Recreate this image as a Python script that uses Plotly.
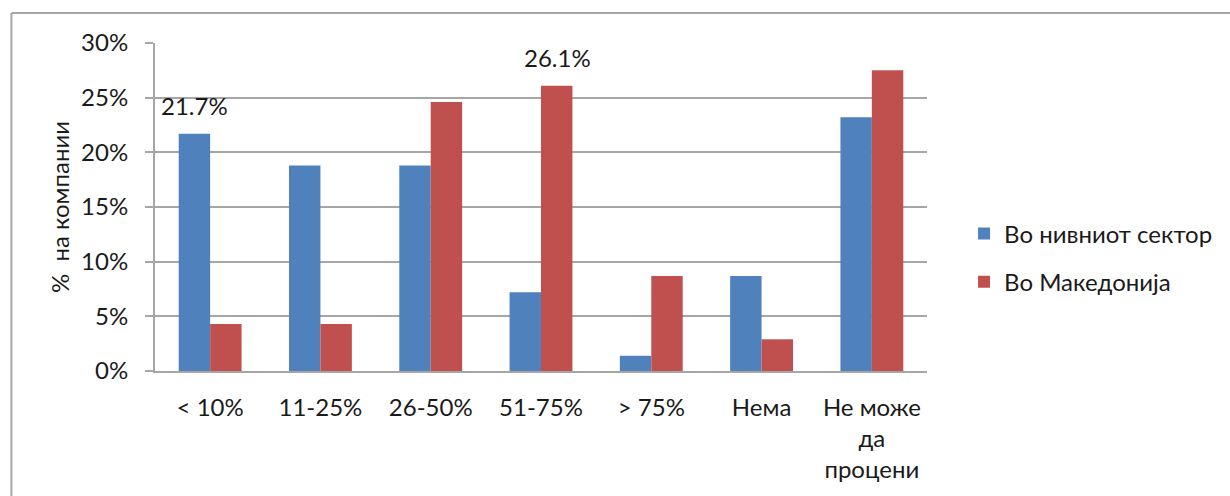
import plotly.graph_objects as go

categories = ["< 10%", "11-25%", "26-50%", "51-75%", "> 75%", "Нема", "Не може<br>да<br>процени"]
sector_vals = [21.7, 18.8, 18.8, 7.2, 1.4, 8.7, 23.2]
macedonia_vals = [4.3, 4.3, 24.6, 26.1, 8.7, 2.9, 27.5]
series_names = ["Во нивниот сектор", "Во Македонија"]
y_ticks = [0, 5, 10, 15, 20, 25, 30]
y_tick_labels = ["0%", "5%", "10%", "15%", "20%", "25%", "30%"]

FONT = "Lato"
GRID = "#A6A6A6"
TXT = "#1a1a1a"

fig = go.Figure()
fig.add_trace(go.Bar(x=categories, y=sector_vals, name=series_names[0],
                     marker=dict(color="#4F81BD", line=dict(width=0)), legendgroup="a"))
fig.add_trace(go.Bar(x=categories, y=macedonia_vals, name=series_names[1],
                     marker=dict(color="#C0504D", line=dict(width=0)), legendgroup="b"))

# data labels
fig.add_annotation(x=categories[0], y=sector_vals[0], text=f"{sector_vals[0]}%",
                   xshift=-16, yshift=12, yanchor="bottom", showarrow=False,
                   font=dict(family=FONT, size=24, color=TXT))
fig.add_annotation(x=categories[3], y=macedonia_vals[3], text=f"{macedonia_vals[3]}%",
                   xshift=16, yshift=12, yanchor="bottom", showarrow=False,
                   font=dict(family=FONT, size=24, color=TXT))

# outer chart border (left and top)
fig.add_shape(type="line", xref="paper", yref="paper", x0=-0.186, x1=1.4, y0=1.0915, y1=1.0915,
              line=dict(color="#A6A6A6", width=2))
fig.add_shape(type="line", xref="paper", yref="paper", x0=-0.186, x1=-0.186, y0=1.0915, y1=-0.45,
              line=dict(color="#A6A6A6", width=2))

fig.update_layout(
    width=1230, height=496,
    margin=dict(l=155, r=290, t=43, b=125),
    paper_bgcolor="white", plot_bgcolor="white",
    barmode="group", bargap=0.43, bargroupgap=0,
    font=dict(family=FONT, size=24, color=TXT),
    showlegend=True,
    legend=dict(x=1.048, y=0.345, xanchor="left", yanchor="middle",
                font=dict(family=FONT, size=24, color=TXT),
                tracegroupgap=14, traceorder="grouped", itemwidth=30),
    xaxis=dict(showline=True, linecolor=GRID, linewidth=2, ticks="", showgrid=False,
               tickfont=dict(family=FONT, size=24), ticklabelstandoff=14, fixedrange=True),
    yaxis=dict(range=[0, 30], tickvals=y_ticks, ticktext=y_tick_labels,
               showgrid=True, gridcolor=GRID, gridwidth=2,
               showline=True, linecolor=GRID, linewidth=2,
               ticks="outside", ticklen=8, tickcolor=GRID, tickwidth=2,
               ticklabelstandoff=12,
               zeroline=False, tickfont=dict(family=FONT, size=24),
               title=dict(text="%  на компании", font=dict(family=FONT, size=24), standoff=5)),
)

fig.write_html("out.html", config={"displayModeBar": False},
               post_script="document.body.style.margin='0';document.body.style.overflow='hidden';")
